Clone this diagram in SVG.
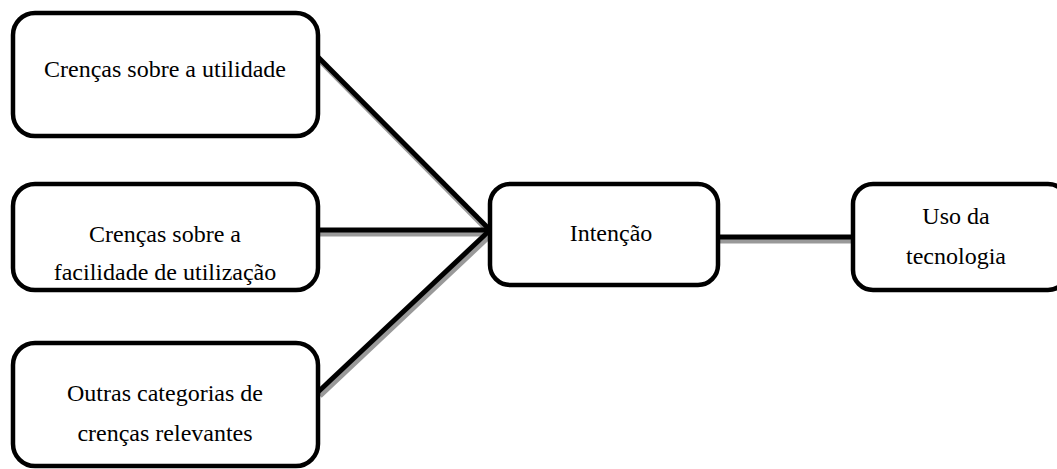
<svg xmlns="http://www.w3.org/2000/svg" width="1057" height="469" viewBox="0 0 1057 469">
<style>
.box{fill:#fff;stroke:#000;stroke-width:4.5}
.t{font-family:"Liberation Serif","Times New Roman",serif;font-size:24px;fill:#000;text-anchor:middle}
.ln{stroke:#000;stroke-width:5;fill:none}
.sh{stroke:#999;stroke-width:5;fill:none}
</style>
<rect width="1057" height="469" fill="#fff"/>
<g id="connectors">
<line class="sh" x1="320" y1="61" x2="490" y2="233"/>
<line class="sh" x1="320" y1="234" x2="490" y2="234"/>
<line class="sh" x1="320" y1="396" x2="492" y2="234"/>
<line class="sh" x1="718" y1="241" x2="852" y2="241"/>
<line class="ln" x1="318" y1="57" x2="490" y2="230"/>
<line class="ln" x1="318" y1="230" x2="490" y2="230"/>
<line class="ln" x1="318" y1="392" x2="490" y2="230"/>
<line class="ln" x1="718" y1="237" x2="852" y2="237"/>
</g>
<g id="n1"><rect class="box" x="13" y="13" width="305" height="123" rx="22"/><text class="t" x="165" y="77">Crenças sobre a utilidade</text></g>
<g id="n2"><rect class="box" x="13" y="184" width="305" height="106" rx="22"/><text class="t" x="165" y="242">Crenças sobre a</text><text class="t" x="165" y="280">facilidade de utilização</text></g>
<g id="n3"><rect class="box" x="13" y="343" width="305" height="123" rx="22"/><text class="t" x="165" y="401">Outras categorias de</text><text class="t" x="165" y="441">crenças relevantes</text></g>
<g id="n4"><rect class="box" x="490" y="184" width="228" height="101" rx="20"/><text class="t" x="611" y="241">Intenção</text></g>
<g id="n5"><rect class="box" x="853" y="184" width="215" height="106" rx="20"/><text class="t" x="956" y="224">Uso da</text><text class="t" x="956" y="264">tecnologia</text></g>
</svg>
